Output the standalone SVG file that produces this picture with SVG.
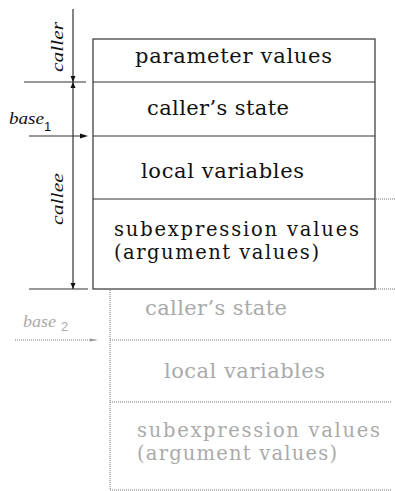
<svg xmlns="http://www.w3.org/2000/svg" width="395" height="491" viewBox="0 0 395 491">
<style>
.solid{stroke:#333;stroke-width:1.2;fill:none}
.dot{stroke:#777;stroke-width:1;stroke-dasharray:1 1;fill:none}
.t{font-family:"DejaVu Serif","Liberation Serif",serif;font-size:21px;fill:#111}
.t2{font-family:"DejaVu Serif","Liberation Serif",serif;font-size:19.5px;fill:#111}
.g{font-family:"DejaVu Serif","Liberation Serif",serif;font-size:21px;fill:#aaa}
.g2{font-family:"DejaVu Serif","Liberation Serif",serif;font-size:19.5px;fill:#aaa}
.lab{font-family:"Liberation Serif",serif;font-style:italic;font-size:17px;fill:#111}
.base{font-family:"Liberation Serif",serif;font-style:italic;font-size:16px;fill:#111}
.sub{font-family:"Liberation Sans",sans-serif;font-size:13px;fill:#111}
.ah{fill:#111}
</style>
<rect width="395" height="491" fill="#fff"/>
<g id="frame-caller">
<rect x="93" y="39" width="282" height="250" class="solid"/>
<line x1="93" y1="82" x2="375" y2="82" class="solid"/>
<line x1="93" y1="136" x2="375" y2="136" class="solid"/>
<line x1="93" y1="199" x2="375" y2="199" class="solid"/>
</g>
<g id="param"><text class="t" x="135" y="63" textLength="197">parameter values</text></g>
<g id="state1"><text class="t" x="147" y="115" textLength="142">caller’s state</text></g>
<g id="locals1"><text class="t" x="141" y="178" textLength="163">local variables</text></g>
<g id="subexp1"><text class="t2" x="114" y="236" textLength="245">subexpression values</text><text class="t2" x="114" y="259" textLength="205">(argument values)</text></g>
<g id="frame-callee">
<line x1="110" y1="290" x2="110" y2="490" class="dot"/>
<line x1="110" y1="340" x2="392" y2="340" class="dot"/>
<line x1="110" y1="402" x2="392" y2="402" class="dot"/>
<line x1="110" y1="490" x2="392" y2="490" class="dot"/>
<line x1="376" y1="199" x2="395" y2="199" class="dot"/>
<line x1="376" y1="289" x2="395" y2="289" class="dot"/>
</g>
<g id="state2"><text class="g" x="145" y="315" textLength="142">caller’s state</text></g>
<g id="locals2"><text class="g" x="164" y="378" textLength="161">local variables</text></g>
<g id="subexp2"><text class="g2" x="137" y="437" textLength="243">subexpression values</text><text class="g2" x="137" y="460" textLength="200">(argument values)</text></g>
<g id="connectors">
<line x1="73" y1="9" x2="73" y2="289" class="solid"/>
<line x1="24" y1="82" x2="86" y2="82" class="solid"/>
<line x1="29" y1="136" x2="84" y2="136" class="solid"/>
<line x1="29" y1="289" x2="88" y2="289" class="solid"/>
<polygon class="ah" points="70.5,76 75.5,76 73,82"/>
<polygon class="ah" points="70.5,88 75.5,88 73,82"/>
<polygon class="ah" points="70.5,283 75.5,283 73,289"/>
<polygon class="ah" points="80,133.5 80,138.5 88,136"/>
<line x1="15" y1="340" x2="92" y2="340" class="dot"/>
<polygon points="90,338.5 90,341.5 98,340" fill="#999"/>
</g>
<g id="labels">
<text class="lab" transform="translate(63,47) rotate(-90)" text-anchor="middle" textLength="50" lengthAdjust="spacingAndGlyphs">caller</text>
<text class="lab" transform="translate(63,199) rotate(-90)" text-anchor="middle" textLength="52" lengthAdjust="spacingAndGlyphs">callee</text>
<text class="base" x="9" y="124" textLength="35" lengthAdjust="spacingAndGlyphs">base</text><text class="sub" x="44" y="131">1</text>
<text class="base" x="23" y="327" textLength="33" lengthAdjust="spacingAndGlyphs" style="fill:#aaa">base</text><text class="sub" x="61" y="331" style="fill:#aaa">2</text>
</g>
</svg>
